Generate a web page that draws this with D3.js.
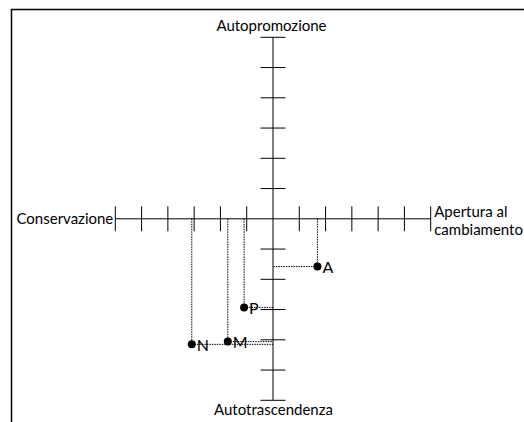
<!DOCTYPE html>
<html><head><meta charset="utf-8">
<script src="https://cdn.jsdelivr.net/npm/d3@7"></script>
<style>body{margin:0;background:#fff;}svg{display:block;}text{font-family:Lato,"Open Sans",sans-serif;fill:#000;}</style>
</head><body>
<svg id="c" width="524" height="422"></svg>
<script>
const tickValues = d3.range(-6, 7, 1);
const pointLabels = ["A", "P", "M", "N"];
const xValues = [1.69, -1.10, -1.72, -3.09];
const yValues = [-1.58, -2.93, -4.06, -4.15];
const axisLabels = {top: "Autopromozione", bottom: "Autotrascendenza", left: "Conservazione", right: ["Apertura al", "cambiamento"]};

const svg = d3.select("#c");
const x = d3.scaleLinear().domain([-6, 6]).range([115.3, 430.7]);
const y = d3.scaleLinear().domain([-6, 6]).range([400.3, 37.3]);

// frame
svg.append("path").attr("d", "M11.5,422V9.5H524").attr("fill", "none").attr("stroke", "#000").attr("stroke-width", 1.5);

// axes lines
svg.append("line").attr("x1", x(-6)).attr("x2", x(6)).attr("y1", y(0)).attr("y2", y(0)).attr("stroke", "#000");
svg.append("line").attr("x1", x(0)).attr("x2", x(0)).attr("y1", y(-6)).attr("y2", y(6)).attr("stroke", "#000");

// ticks
svg.selectAll(".xt").data(tickValues.filter(d => d !== 0)).enter().append("line")
  .attr("x1", d => x(d)).attr("x2", d => x(d)).attr("y1", y(0) - 12.5).attr("y2", y(0) + 12.5).attr("stroke", "#000");
svg.selectAll(".yt").data(tickValues.filter(d => d !== 0)).enter().append("line")
  .attr("y1", d => y(d)).attr("y2", d => y(d)).attr("x1", x(0) - 12.5).attr("x2", x(0) + 12.5).attr("stroke", "#000");

// axis labels
svg.append("text").attr("x", x(0) - 1.5).attr("y", 30.7).attr("text-anchor", "middle").attr("font-size", 15).text(axisLabels.top);
svg.append("text").attr("x", x(0) + 0.5).attr("y", 414.5).attr("text-anchor", "middle").attr("font-size", 15).text(axisLabels.bottom);
svg.append("text").attr("x", x(-6) - 2).attr("y", y(0) + 5).attr("text-anchor", "end").attr("font-size", 15).text(axisLabels.left);
const rt = svg.append("text").attr("x", x(6) + 3.5).attr("y", 217.3).attr("font-size", 15);
rt.selectAll("tspan").data(axisLabels.right).enter().append("tspan")
  .attr("x", x(6) + 3.5).attr("dy", (d, i) => i ? 17.5 : 0).text(d => d);

const pts = pointLabels.map((l, i) => ({l, x: xValues[i], y: yValues[i]}));

// drop lines
svg.selectAll(".vl").data(pts).enter().append("line")
  .attr("x1", d => x(d.x)).attr("x2", d => x(d.x)).attr("y1", y(0)).attr("y2", d => y(d.y))
  .attr("stroke", "#000").attr("stroke-dasharray", "1.5,1");
svg.selectAll(".hl").data(pts).enter().append("line")
  .attr("x1", d => x(d.x)).attr("x2", x(0)).attr("y1", d => y(d.y)).attr("y2", d => y(d.y))
  .attr("stroke", "#000").attr("stroke-dasharray", "1.5,1");

// points
svg.selectAll(".pt").data(pts).enter().append("circle")
  .attr("cx", d => x(d.x)).attr("cy", d => y(d.y)).attr("r", 4).attr("fill", "#000");
svg.selectAll(".pl").data(pts).enter().append("text")
  .attr("x", d => x(d.x) + 5).attr("y", d => y(d.y) + 6.5).attr("font-size", 16).text(d => d.l);
</script>
</body></html>
